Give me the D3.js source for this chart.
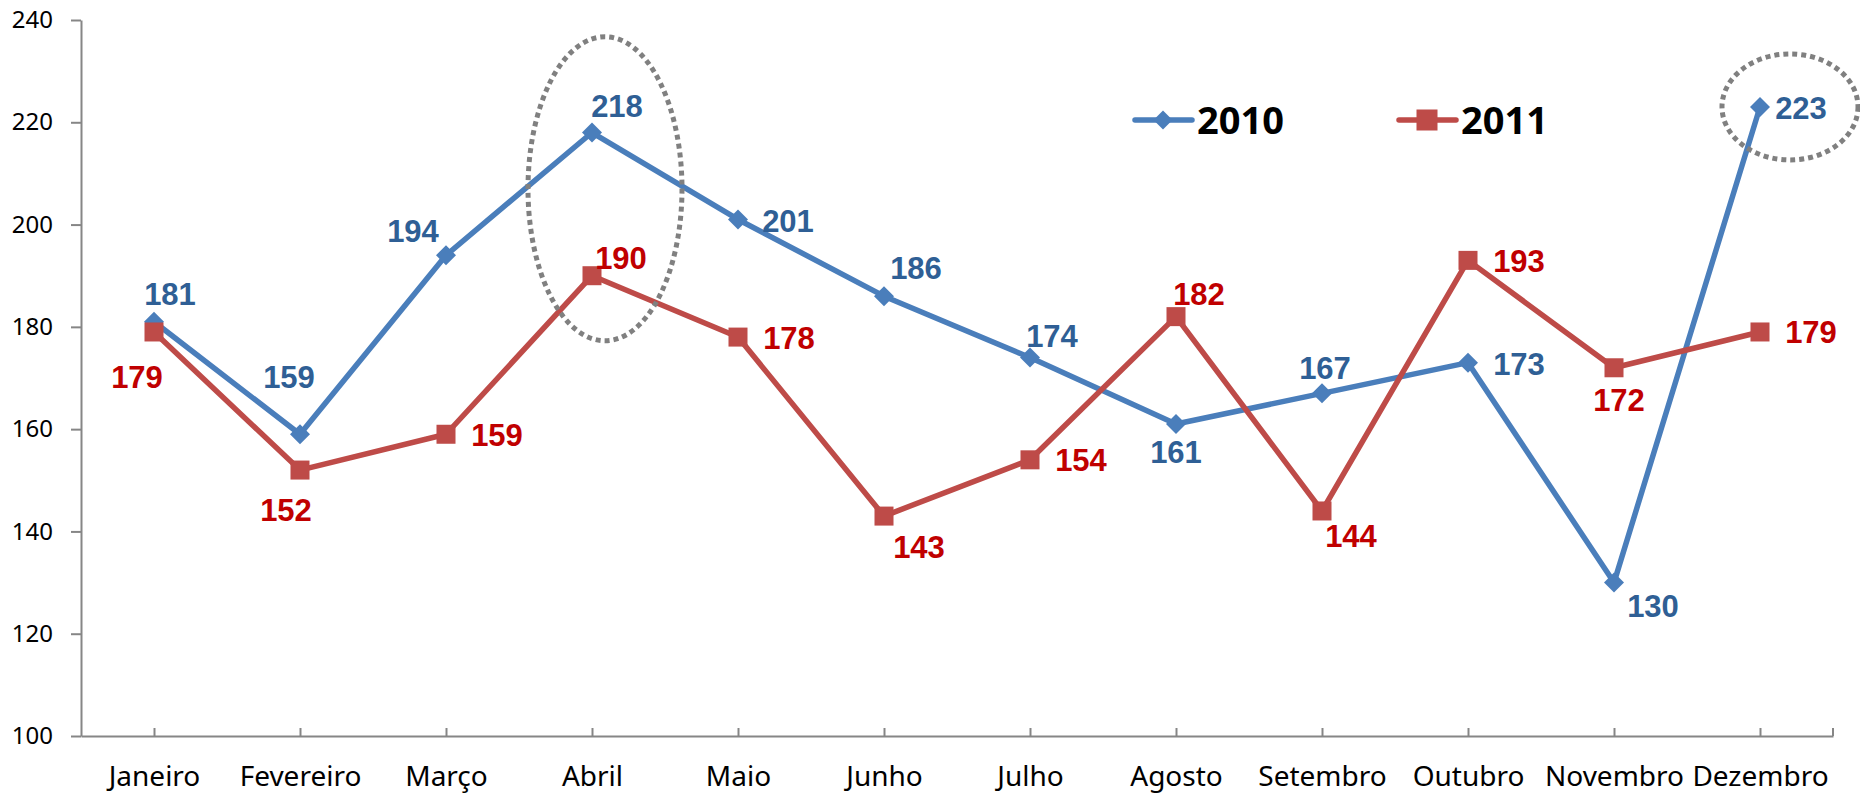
<!DOCTYPE html>
<html>
<head>
<meta charset="utf-8">
<script src="https://cdn.jsdelivr.net/npm/d3@7"></script>
<style>
  html, body { margin: 0; padding: 0; background: #fff; }
  svg { display: block; }
</style>
</head>
<body>
<svg id="chart"></svg>
<script>
const months = ["Janeiro", "Fevereiro", "Março", "Abril", "Maio", "Junho",
  "Julho", "Agosto", "Setembro", "Outubro", "Novembro", "Dezembro"];
const values2010 = [181, 159, 194, 218, 201, 186, 174, 161, 167, 173, 130, 223];
const values2011 = [179, 152, 159, 190, 178, 143, 154, 182, 144, 193, 172, 179];
const yTicks = [100, 120, 140, 160, 180, 200, 220, 240];

// where each data label sits relative to its marker (px)
const labelOffsets2010 = [[16, -28], [-11, -57], [-33, -24], [25, -27], [50, 1], [32, -28],
  [22, -22], [0, 28], [3, -26], [51, 1], [39, 23], [41, 1]];
const labelOffsets2011 = [[-17, 45], [-14, 40], [51, 1], [29, -18], [51, 1], [35, 31],
  [51, 0], [23, -23], [29, 25], [51, 0], [5, 32], [51, 0]];

const width = 1860;
const height = 795;
const svg = d3.select("#chart").attr("width", width).attr("height", height);

const margin = { top: 20, right: 27, bottom: 59, left: 81 };

const x = d3.scalePoint().domain(months)
  .range([margin.left, width - margin.right]).padding(0.5);
const y = d3.scaleLinear().domain([100, 240])
  .range([height - margin.bottom, margin.top]);

const axisColor = "#868686";
const tickFont = "'Noto Sans', 'Open Sans', sans-serif";

// y axis
const yAxis = svg.append("g")
  .attr("transform", `translate(${margin.left},0)`)
  .call(d3.axisLeft(y).tickValues(yTicks).tickSize(10).tickPadding(18).tickSizeOuter(0));
yAxis.select(".domain").attr("stroke", axisColor).attr("stroke-width", 2);
yAxis.selectAll(".tick line").attr("stroke", axisColor).attr("stroke-width", 2);
yAxis.selectAll(".tick text")
  .attr("fill", "#000")
  .style("font-family", tickFont)
  .style("font-size", "24px");

// x axis, ticks point up into the plot
const xAxis = svg.append("g")
  .attr("transform", `translate(0,${y(100)})`)
  .call(d3.axisBottom(x).tickSize(-8).tickPadding(30).tickSizeOuter(0));
xAxis.select(".domain").attr("stroke", axisColor).attr("stroke-width", 2);
xAxis.selectAll(".tick line").attr("stroke", axisColor).attr("stroke-width", 2);
xAxis.selectAll(".tick text")
  .attr("fill", "#000")
  .style("font-family", tickFont)
  .style("font-size", "28px");
xAxis.append("line")
  .attr("x1", width - margin.right).attr("x2", width - margin.right)
  .attr("y1", 0).attr("y2", -8)
  .attr("stroke", axisColor).attr("stroke-width", 2);

const series = [
  { name: "2010", values: values2010, offsets: labelOffsets2010, color: "#4A7EBB", text: "#2F5F95", shape: "diamond", size: 20 },
  { name: "2011", values: values2011, offsets: labelOffsets2011, color: "#BE4B48", text: "#C00000", shape: "square", size: 19 }
];

const line = d3.line()
  .x((d, i) => x(months[i]))
  .y(d => y(d));

function marker(sel, shape, color, size) {
  if (shape === "diamond") {
    const h = size / 2;
    sel.append("path")
      .attr("d", `M0,${-h}L${h},0L0,${h}L${-h},0Z`)
      .attr("fill", color);
  } else {
    sel.append("rect")
      .attr("x", -size / 2).attr("y", -size / 2)
      .attr("width", size).attr("height", size)
      .attr("fill", color);
  }
}

series.forEach(s => {
  svg.append("path")
    .datum(s.values)
    .attr("fill", "none")
    .attr("stroke", s.color)
    .attr("stroke-width", 5.5)
    .attr("stroke-linejoin", "round")
    .attr("d", line);
});

// dotted highlight ellipses
const highlights = [
  { month: "Abril", value: 207, dx: 13, rx: 77, ry: 152 },
  { month: "Dezembro", value: 223, dx: 30, rx: 68, ry: 53 }
];
svg.selectAll(".highlight")
  .data(highlights)
  .enter()
  .append("ellipse")
  .attr("class", "highlight")
  .attr("cx", d => x(d.month) + d.dx)
  .attr("cy", d => y(d.value))
  .attr("rx", d => d.rx)
  .attr("ry", d => d.ry)
  .attr("fill", "none")
  .attr("stroke", "#808080")
  .attr("stroke-width", 5)
  .attr("stroke-dasharray", "5 4");

series.forEach(s => {
  s.values.forEach((v, i) => {
    const g = svg.append("g")
      .attr("transform", `translate(${x(months[i])},${y(v)})`);
    marker(g, s.shape, s.color, s.size);
  });
});

series.forEach(s => {
  svg.selectAll(null)
    .data(s.values)
    .enter()
    .append("text")
    .attr("x", (d, i) => x(months[i]) + s.offsets[i][0])
    .attr("y", (d, i) => y(d) + s.offsets[i][1])
    .attr("dy", "0.36em")
    .attr("text-anchor", "middle")
    .attr("fill", s.text)
    .style("font-family", "'Liberation Sans', Arial, sans-serif")
    .style("font-weight", "bold")
    .style("font-size", "31px")
    .text(d => d);
});

// legend
const legendItems = [
  { x: 1135, color: series[0].color, shape: "diamond", size: 19, label: "2010" },
  { x: 1399, color: series[1].color, shape: "square", size: 21, label: "2011" }
];
legendItems.forEach(l => {
  const row = svg.append("g").attr("transform", `translate(${l.x},120)`);
  row.append("line")
    .attr("x1", 0).attr("x2", 57)
    .attr("stroke", l.color).attr("stroke-width", 5.5)
    .attr("stroke-linecap", "round");
  marker(row.append("g").attr("transform", "translate(28,0)"), l.shape, l.color, l.size);
  row.append("text")
    .attr("x", 62)
    .attr("dy", "0.36em")
    .attr("fill", "#000")
    .style("font-family", tickFont)
    .style("font-weight", "bold")
    .style("font-size", "38px")
    .text(l.label);
});
</script>
</body>
</html>
